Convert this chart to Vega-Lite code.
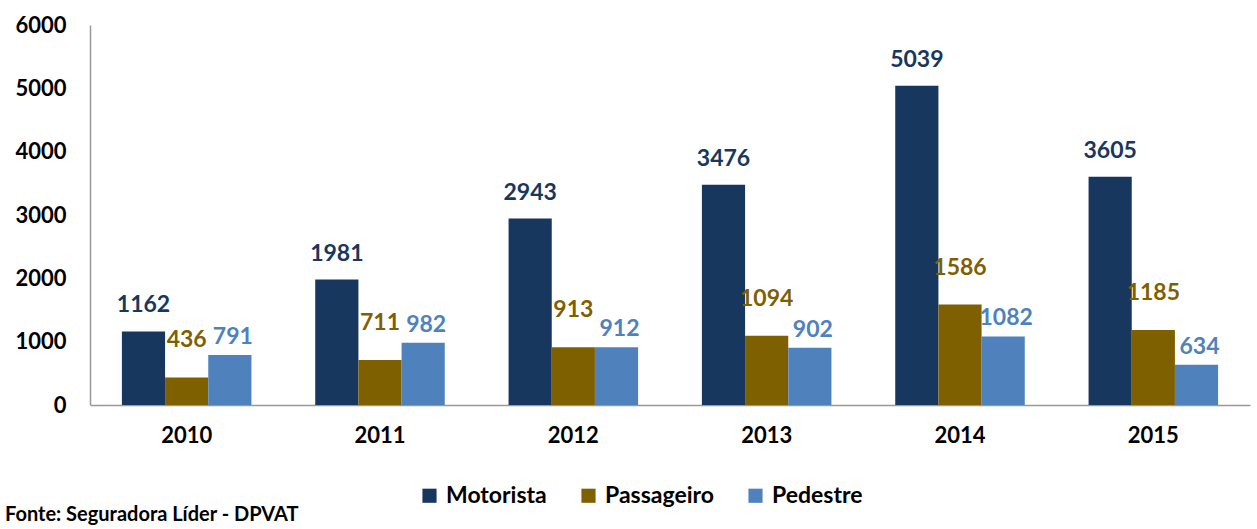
{
  "$schema": "https://vega.github.io/schema/vega-lite/v6.json",
  "autosize": "none",
  "padding": {"left": 90, "top": 25, "right": 7, "bottom": 124},
  "width": 1160,
  "height": 380,
  "background": "white",
  "title": {
    "text": "Fonte: Seguradora Líder - DPVAT",
    "orient": "bottom",
    "anchor": "start",
    "frame": "group",
    "dx": -85,
    "offset": -3,
    "font": "Lato",
    "fontSize": 20,
    "fontWeight": "bold",
    "color": "#000000"
  },
  "data": {
    "values": [
      {"ano": "2010", "tipo": "Motorista", "valor": 1162},
      {"ano": "2010", "tipo": "Passageiro", "valor": 436},
      {"ano": "2010", "tipo": "Pedestre", "valor": 791},
      {"ano": "2011", "tipo": "Motorista", "valor": 1981},
      {"ano": "2011", "tipo": "Passageiro", "valor": 711},
      {"ano": "2011", "tipo": "Pedestre", "valor": 982},
      {"ano": "2012", "tipo": "Motorista", "valor": 2943},
      {"ano": "2012", "tipo": "Passageiro", "valor": 913},
      {"ano": "2012", "tipo": "Pedestre", "valor": 912},
      {"ano": "2013", "tipo": "Motorista", "valor": 3476},
      {"ano": "2013", "tipo": "Passageiro", "valor": 1094},
      {"ano": "2013", "tipo": "Pedestre", "valor": 902},
      {"ano": "2014", "tipo": "Motorista", "valor": 5039},
      {"ano": "2014", "tipo": "Passageiro", "valor": 1586},
      {"ano": "2014", "tipo": "Pedestre", "valor": 1082},
      {"ano": "2015", "tipo": "Motorista", "valor": 3605},
      {"ano": "2015", "tipo": "Passageiro", "valor": 1185},
      {"ano": "2015", "tipo": "Pedestre", "valor": 634}
    ]
  },
  "encoding": {
    "x": {
      "field": "ano", "type": "nominal",
      "scale": {"paddingInner": 0.33, "paddingOuter": 0.165},
      "axis": {
        "title": null, "labelAngle": 0, "ticks": false, "labelPadding": 20,
        "labelFont": "Lato", "labelFontSize": 22, "labelFontWeight": "bold", "labelColor": "#000000",
        "domainColor": "#999999", "domainWidth": 1.5
      }
    },
    "xOffset": {"field": "tipo", "type": "nominal", "scale": {"paddingInner": 0, "paddingOuter": 0}, "sort": ["Motorista", "Passageiro", "Pedestre"]},
    "y": {
      "field": "valor", "type": "quantitative",
      "scale": {"domain": [0, 6000], "nice": false},
      "axis": {
        "title": null, "values": [0, 1000, 2000, 3000, 4000, 5000, 6000], "format": "d",
        "grid": false, "ticks": false, "labelPadding": 24,
        "labelFont": "Lato", "labelFontSize": 22, "labelFontWeight": "bold", "labelColor": "#000000",
        "domainColor": "#999999", "domainWidth": 1.5
      }
    }
  },
  "layer": [
    {
      "mark": {"type": "bar"},
      "encoding": {
        "color": {
          "field": "tipo", "type": "nominal",
          "scale": {"domain": ["Motorista", "Passageiro", "Pedestre"], "range": ["#17375E", "#7F6000", "#4F81BD"]},
          "legend": {
            "title": null, "orient": "none", "direction": "horizontal",
            "legendX": 328, "legendY": 459,
            "symbolType": "square", "symbolSize": 200, "symbolStrokeWidth": 0,
            "labelFont": "Lato", "labelFontSize": 23, "labelFontWeight": "bold", "labelColor": "#000000",
            "columnPadding": 30, "labelOffset": 5
          }
        }
      }
    },
    {
      "transform": [{"filter": "datum.tipo === 'Motorista'"}],
      "mark": {"type": "text", "baseline": "bottom", "dy": -14, "font": "Lato", "fontSize": 23, "fontWeight": "bold", "color": "#17375E"},
      "encoding": {"text": {"field": "valor", "type": "quantitative", "format": "d"}}
    },
    {
      "transform": [{"filter": "datum.tipo === 'Passageiro'"}],
      "mark": {"type": "text", "baseline": "bottom", "dy": -25, "dx": 0, "font": "Lato", "fontSize": 23, "fontWeight": "bold", "color": "#7F6000"},
      "encoding": {"text": {"field": "valor", "type": "quantitative", "format": "d"}}
    },
    {
      "transform": [{"filter": "datum.tipo === 'Pedestre'"}],
      "mark": {"type": "text", "baseline": "bottom", "dy": -6, "dx": 3, "font": "Lato", "fontSize": 23, "fontWeight": "bold", "color": "#4F81BD"},
      "encoding": {"text": {"field": "valor", "type": "quantitative", "format": "d"}}
    }
  ],
  "config": {"view": {"stroke": null}}
}
